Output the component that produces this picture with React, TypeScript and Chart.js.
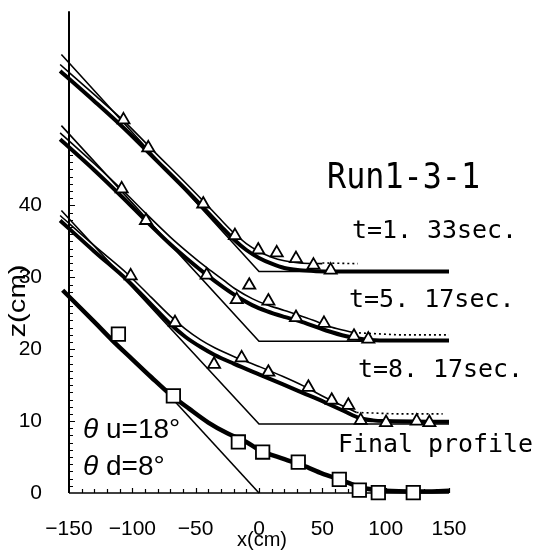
import React, { useEffect, useRef } from "react";
import { Chart, registerables } from "chart.js";
Chart.register(...registerables);

// ---- axis ticks ----
const xTickValues = [-150, -100, -50, 0, 50, 100, 150];
const yTickValues = [0, 10, 20, 30, 40];

// ---- initial (straight) profiles ----
const init133X = [-156, 0, 150];
const init133Z = [61.0, 30.8, 30.8];
const init517X = [-156, 0, 150];
const init517Z = [51.1, 21.1, 21.1];
const init817X = [-156, 0, 150];
const init817Z = [39.3, 9.6, 9.6];
const initFinalX = [-72, 0];
const initFinalZ = [13.8, 0];

// ---- thick (computed) profiles ----
const thick133X = [-157, -130, -107, -80, -60, -44, -30, -20, -10, 0, 10, 20, 32, 45, 60, 150];
const thick133Z = [58.7, 54.5, 50.8, 46.1, 42.6, 39.7, 37.1, 35.3, 33.8, 32.7, 31.9, 31.3, 31.0, 30.85, 30.8, 30.8];
const thick517X = [-157, -130, -107, -90, -70, -55, -41, -28, -18, -5, 6, 20, 32, 45, 53, 69, 85, 100, 150];
const thick517Z = [49.2, 44.9, 41.0, 38.0, 34.6, 32.3, 30.3, 28.6, 27.4, 26.1, 25.3, 24.5, 23.9, 23.1, 22.6, 21.8, 21.3, 21.2, 21.2];
const thick817X = [-157, -130, -104, -85, -70, -58, -46, -35, -20, 0, 19, 35, 46, 57, 67, 80, 90, 100, 150];
const thick817Z = [37.9, 33.6, 29.6, 26.2, 23.5, 21.7, 20.3, 19.2, 18.0, 16.5, 15.1, 13.9, 13.1, 12.2, 11.4, 10.4, 10.1, 10.0, 9.9];
const thickFinalX = [-155, -130, -115, -100, -85, -70, -55, -40, -25, -10, 0, 20, 35, 50, 65, 80, 100, 125, 150];
const thickFinalZ = [28.2, 23.8, 21.1, 18.6, 16.1, 13.7, 11.7, 9.8, 8.3, 7.1, 6.0, 4.7, 3.8, 2.7, 1.8, 0.8, 0.3, 0.2, 0.3];

// ---- thin (measured) profiles ----
const thin133X = [-157, -130, -107, -80, -60, -44, -30, -20, -10, 0, 10, 20, 32, 50];
const thin133Z = [59.6, 55.4, 51.8, 47.0, 43.5, 40.6, 38.0, 36.2, 34.7, 33.6, 32.8, 32.3, 32.0, 31.9];
const thin517X = [-157, -130, -107, -90, -70, -55, -41, -28, -18, -5, 6, 20, 32, 45, 55, 65, 75];
const thin517Z = [50.1, 45.8, 42.0, 39.0, 35.6, 33.3, 31.3, 29.6, 28.3, 27.0, 26.2, 25.4, 24.7, 23.9, 23.2, 22.7, 22.3];
const thin817X = [-157, -130, -104, -85, -70, -58, -46, -35, -20, 0, 19, 35, 50, 58, 70, 77];
const thin817Z = [38.6, 34.4, 30.5, 27.2, 24.6, 22.8, 21.3, 20.2, 19.0, 17.6, 16.2, 14.9, 13.5, 12.8, 11.8, 11.2];

// ---- dotted continuation ----
const dot133X = [50, 78];
const dot133Z = [32.0, 31.9];
const dot517X = [75, 110, 150];
const dot517Z = [22.3, 22.0, 22.0];
const dot817X = [77, 110, 145];
const dot817Z = [11.2, 11.0, 11.0];

// ---- observed points ----
const tri133X = [-107, -87.4, -44, -19, -0.6, 14, 29.2, 43, 56.6];
const tri133Z = [51.9, 48.0, 40.2, 35.8, 33.8, 33.4, 32.6, 31.7, 31.0];
const tri517X = [-108.4, -89.2, -41.3, -17.6, -7.7, 7.4, 29.2, 51.3, 75, 86.3];
const tri517Z = [42.3, 37.9, 30.3, 26.9, 28.9, 26.7, 24.4, 23.6, 21.8, 21.4];
const tri817X = [-101.3, -66.3, -35.5, -13.7, 7.4, 39, 57.4, 70.5, 80.3, 100.3, 124.5, 134.5];
const tri817Z = [30.2, 23.7, 17.9, 18.8, 16.8, 14.7, 12.9, 12.2, 10.1, 9.8, 10.0, 9.8];
const sqFinalX = [-111, -67.6, -16.3, 2.9, 31, 63.4, 79.2, 94.2, 121.8];
const sqFinalZ = [22.1, 13.5, 7.1, 5.7, 4.3, 1.9, 0.4, 0.05, 0.05];

const pts = (xs: number[], zs: number[]) => xs.map((x, i) => ({ x, y: zs[i] }));

const lineDs = (xs: number[], zs: number[], width: number, order: number, dash: number[] = [], smooth = false) => ({
  data: pts(xs, zs),
  showLine: true,
  borderColor: "#000",
  borderWidth: width,
  borderDash: dash,
  pointRadius: 0,
  fill: false,
  clip: false as const,
  order,
  cubicInterpolationMode: smooth ? ("monotone" as const) : ("default" as const),
});

const markerDs = (xs: number[], zs: number[], style: string, r: number) => ({
  data: pts(xs, zs),
  showLine: false,
  pointStyle: style,
  pointRadius: r,
  pointBackgroundColor: "#fff",
  pointBorderColor: "#000",
  pointBorderWidth: 1.8,
  clip: false as const,
  order: 0,
});

const decor = {
  id: "decor",
  beforeDatasetsDraw(chart: any) {
    const { ctx, chartArea, scales } = chart;
    const x = scales.x;
    const y = scales.y;
    ctx.save();
    ctx.strokeStyle = "#000";
    ctx.lineWidth = 2;
    ctx.beginPath();
    ctx.moveTo(chartArea.left, chartArea.top);
    ctx.lineTo(chartArea.left, chartArea.bottom);
    ctx.stroke();
    ctx.lineWidth = 1.5;
    ctx.beginPath();
    ctx.moveTo(chartArea.left, chartArea.bottom);
    ctx.lineTo(chartArea.right, chartArea.bottom);
    ctx.stroke();
    ctx.lineWidth = 1.2;
    ctx.beginPath();
    for (let v = 1; v <= 47; v++) {
      const py = Math.round(y.getPixelForValue(v)) + 0.5;
      const len = v % 10 === 0 ? 6 : 4;
      ctx.moveTo(chartArea.left, py);
      ctx.lineTo(chartArea.left + len, py);
    }
    for (let v = -140; v <= 150; v += 10) {
      const px = Math.round(x.getPixelForValue(v)) + 0.5;
      const len = v % 50 === 0 ? 5 : 4;
      ctx.moveTo(px, chartArea.bottom);
      ctx.lineTo(px, chartArea.bottom - len);
    }
    ctx.stroke();
    ctx.restore();
  },
  afterDraw(chart: any) {
    const { ctx } = chart;
    ctx.save();
    ctx.fillStyle = "#000";
    ctx.textBaseline = "alphabetic";
    ctx.textAlign = "left";
    ctx.font = '35px "DejaVu Sans Mono"';
    ctx.fillText("Run1-3-1", 327, 188, 153);
    ctx.font = '25px "DejaVu Sans Mono"';
    ctx.fillText("t=1. 33sec.", 352, 238, 165);
    ctx.fillText("t=5. 17sec.", 349, 307, 168);
    ctx.fillText("t=8. 17sec.", 358, 377, 165);
    ctx.fillText("Final profile", 338, 452, 195);
    ctx.font = 'italic 28px "Liberation Sans"';
    ctx.fillText("θ", 83, 438);
    ctx.fillText("θ", 83, 475);
    ctx.font = '28px "Liberation Sans"';
    ctx.fillText("u=18°", 106, 438);
    ctx.fillText("d=8°", 106, 475);
    ctx.font = '20px "Liberation Sans"';
    ctx.textAlign = "center";
    ctx.fillText("x(cm)", 262, 546);
    ctx.translate(25, 301);
    ctx.rotate(-Math.PI / 2);
    ctx.font = '24px "Liberation Sans"';
    ctx.scale(1.22, 1);
    ctx.fillText("z(cm)", 0, 0);
    ctx.restore();
  },
};

export default function App() {
  const ref = useRef<HTMLCanvasElement | null>(null);
  useEffect(() => {
    if (!ref.current) return;
    const chart = new Chart(ref.current, {
      type: "scatter",
      data: {
        datasets: [
          markerDs(tri133X, tri133Z, "triangle", 7),
          markerDs(tri517X, tri517Z, "triangle", 7),
          markerDs(tri817X, tri817Z, "triangle", 7),
          markerDs(sqFinalX, sqFinalZ, "rect", 9.5),
          lineDs(thin133X, thin133Z, 1.6, 1, [], true),
          lineDs(thin517X, thin517Z, 1.6, 1, [], true),
          lineDs(thin817X, thin817Z, 1.6, 1, [], true),
          lineDs(dot133X, dot133Z, 1.6, 1, [2, 3]),
          lineDs(dot517X, dot517Z, 1.6, 1, [2, 3]),
          lineDs(dot817X, dot817Z, 1.6, 1, [2, 3]),
          lineDs(thick133X, thick133Z, 4, 2, [], true),
          lineDs(thick517X, thick517Z, 4, 2, [], true),
          lineDs(thick817X, thick817Z, 4, 2, [], true),
          lineDs(thickFinalX, thickFinalZ, 4.5, 2, [], true),
          lineDs(init133X, init133Z, 1.6, 3),
          lineDs(init517X, init517Z, 1.6, 3),
          lineDs(init817X, init817Z, 1.6, 3),
          lineDs(initFinalX, initFinalZ, 1.6, 3),
        ] as any,
      },
      options: {
        animation: false,
        responsive: false,
        maintainAspectRatio: false,
        layout: { padding: { top: 7, right: 89, left: 0, bottom: 0 } },
        plugins: { legend: { display: false }, tooltip: { enabled: false } },
        scales: {
          x: {
            type: "linear",
            min: -150,
            max: 150,
            afterFit: (s: any) => { s.height = 58; s.paddingLeft = 0; s.paddingRight = 0; },
            afterBuildTicks: (s: any) => { s.ticks = xTickValues.map((v) => ({ value: v })); },
            grid: { display: false },
            border: { display: false },
            ticks: {
              color: "#000",
              font: { family: "Liberation Sans", size: 21 },
              padding: 16,
              maxRotation: 0,
              autoSkip: false,
              callback: (v: any) => String(v).replace("-", "\u2212"),
            },
          },
          y: {
            type: "linear",
            min: 0,
            max: 67,
            afterFit: (s: any) => { s.width = 69; s.paddingTop = 0; s.paddingBottom = 0; },
            afterBuildTicks: (s: any) => { s.ticks = yTickValues.map((v) => ({ value: v })); },
            grid: { display: false },
            border: { display: false },
            ticks: {
              color: "#000",
              font: { family: "Liberation Sans", size: 21 },
              padding: 19,
              autoSkip: false,
            },
          },
        },
      },
      plugins: [decor],
    });
    return () => chart.destroy();
  }, []);
  return (
    <div style={{ position: "fixed", left: 0, top: 0, width: 538, height: 551, background: "#fff" }}>
      <canvas ref={ref} width={538} height={551} style={{ display: "block", width: 538, height: 551 }} />
    </div>
  );
}
